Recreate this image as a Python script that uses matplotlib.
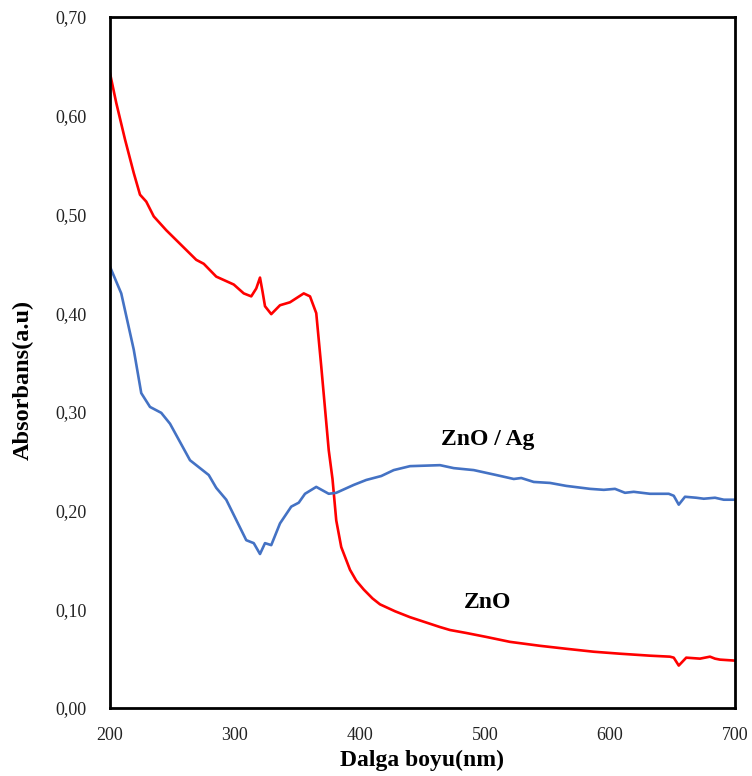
import matplotlib
matplotlib.use('Agg')
import matplotlib.pyplot as plt
from matplotlib.ticker import FuncFormatter, MultipleLocator

# ZnO (red)
wl_zno = [200, 205, 212, 219, 224, 229, 235, 245, 261, 269, 275, 285, 299, 307, 313, 317,
          320, 322, 324, 329, 336, 344, 355, 360, 365, 369, 375, 378, 381, 385, 392, 397,
          403, 410, 416, 428, 440, 452, 464, 472, 485, 501, 520, 544, 565, 587, 608, 632,
          648, 651, 655, 661, 672, 680, 684, 688, 700]
abs_zno = [0.643, 0.613, 0.576, 0.542, 0.520, 0.513, 0.498, 0.484, 0.464, 0.454, 0.450, 0.437,
           0.429, 0.420, 0.417, 0.425, 0.436, 0.422, 0.407, 0.399, 0.408, 0.411, 0.420, 0.417,
           0.400, 0.346, 0.261, 0.232, 0.190, 0.163, 0.140, 0.129, 0.120, 0.111, 0.105, 0.098,
           0.092, 0.087, 0.082, 0.079, 0.076, 0.072, 0.067, 0.063, 0.060, 0.057, 0.055, 0.053,
           0.052, 0.051, 0.043, 0.051, 0.050, 0.052, 0.050, 0.049, 0.048]

# ZnO / Ag (blue)
wl_znoag = [200, 209, 219, 225, 232, 241, 248, 264, 279, 285, 293, 309, 315, 320, 324, 329,
            336, 345, 351, 356, 365, 375, 381, 395, 405, 417, 427, 440, 464, 475, 491, 509,
            523, 529, 539, 552, 565, 584, 595, 604, 612, 619, 632, 647, 651, 655, 660, 669,
            675, 684, 691, 700]
abs_znoag = [0.447, 0.420, 0.363, 0.319, 0.305, 0.299, 0.288, 0.251, 0.236, 0.223, 0.211, 0.170,
             0.167, 0.156, 0.167, 0.165, 0.187, 0.204, 0.208, 0.217, 0.224, 0.217, 0.218, 0.226,
             0.231, 0.235, 0.241, 0.245, 0.246, 0.243, 0.241, 0.236, 0.232, 0.233, 0.229, 0.228,
             0.225, 0.222, 0.221, 0.222, 0.218, 0.219, 0.217, 0.217, 0.215, 0.206, 0.214, 0.213,
             0.212, 0.213, 0.211, 0.211]

plt.rcParams['font.family'] = ['Liberation Serif', 'DejaVu Serif']

fig = plt.figure(figsize=(7.52, 7.76), dpi=100)
ax = fig.add_axes([110/752, 1 - 708/776, 625/752, 691/776])

ax.plot(wl_zno, abs_zno, color='#FF0000', lw=1.9)
ax.plot(wl_znoag, abs_znoag, color='#4472C4', lw=1.9)

ax.set_xlim(200, 700)
ax.set_ylim(0, 0.70)
ax.xaxis.set_major_locator(MultipleLocator(100))
ax.yaxis.set_major_locator(MultipleLocator(0.1))
ax.yaxis.set_major_formatter(FuncFormatter(lambda v, p: f"{v:.2f}".replace('.', ',')))
ax.tick_params(length=0, labelsize=13, colors='#222222')
ax.tick_params(axis='y', pad=17)
ax.tick_params(axis='x', pad=14)
for s in ax.spines.values():
    s.set_linewidth(2.0)
    s.set_color('black')

ax.set_xlabel('Dalga boyu(nm)', fontsize=17, fontweight='bold')
ax.xaxis.set_label_coords(0.5, -0.06)
ax.xaxis.label.set_va('top')
ax.set_ylabel('Absorbans(a.u)', fontsize=17.5, fontweight='bold')
ax.yaxis.set_label_coords(-0.122, 0.475)

ax.text(502, 0.272, 'ZnO / Ag', fontsize=17, fontweight='bold', ha='center', va='center')
ax.text(502, 0.107, 'ZnO', fontsize=17, fontweight='bold', ha='center', va='center')

fig.savefig('out.png', dpi=100)
